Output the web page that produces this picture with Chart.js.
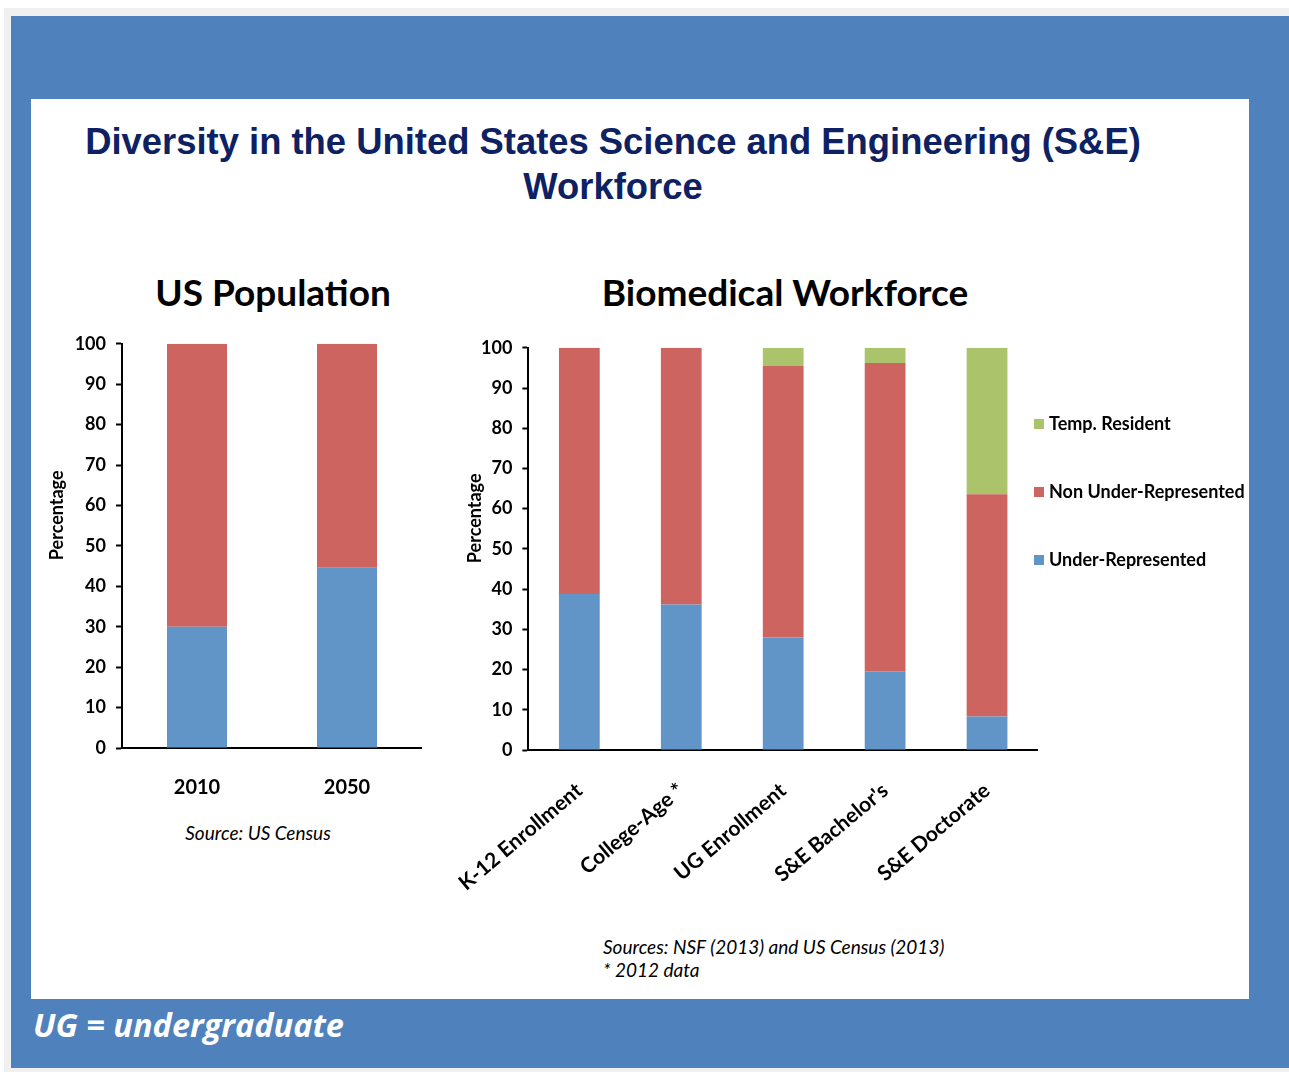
<!DOCTYPE html>
<html>
<head>
<meta charset="utf-8">
<script src="https://cdn.jsdelivr.net/npm/chart.js@4"></script>
<style>
  html, body { margin: 0; padding: 0; background: #fff; }
  #page { position: relative; width: 1289px; height: 1072px; overflow: hidden; }
  #gray { position: absolute; left: 4px; top: 8px; width: 1285px; height: 1064px; background: #f0f0f0; }
  #blue { position: absolute; left: 11px; top: 16px; width: 1278px; height: 1052px; background: #4f81bd; }
  #panel { position: absolute; left: 31px; top: 99px; width: 1218px; height: 900px; background: #fff; }
  .txt { position: absolute; white-space: nowrap; }
  #title { left: 31px; width: 1164px; top: 119px; text-align: center; font: bold 36.4px "Liberation Sans", Arial, sans-serif; color: #0d2163; line-height: 45px; }
  .sub { top: 269px; font: bold 37px Lato, "Open Sans", sans-serif; color: #000; }
  .src { font: italic 19px Lato, "Open Sans", sans-serif; color: #000; }
  #ug { left: 33px; top: 1002px; font: italic bold 32.5px "Open Sans", Lato, sans-serif; color: #fff; }
  canvas { position: absolute; }
  .leg { position: absolute; font: bold 18px Lato, "Open Sans", sans-serif; color: #000; white-space: nowrap; }
  .leg span { display: inline-block; width: 10px; height: 10px; margin-right: 5px; vertical-align: 1px; }
</style>
</head>
<body>
<div id="page">
  <div id="gray"></div>
  <div id="blue"></div>
  <div id="panel"></div>
  <div class="txt" id="title">Diversity in the United States Science and Engineering (S&amp;E)<br>Workforce</div>
  <div class="txt sub" style="left:273px;transform:translateX(-50%)">US Population</div>
  <div class="txt sub" style="left:785px;transform:translateX(-50%)">Biomedical Workforce</div>
  <div class="txt src" style="left:258px;top:821px;transform:translateX(-50%)">Source: US Census</div>
  <div class="txt src" style="left:603px;top:935px">Sources: NSF (2013) and US Census (2013)</div>
  <div class="txt src" style="left:603px;top:958px">* 2012 data</div>
  <div class="txt" id="ug">UG = undergraduate</div>
  <div style="position:absolute;left:40px;top:323px;width:382px;height:495px"><canvas id="popChart"></canvas></div>
  <div style="position:absolute;left:427px;top:327px;width:611px;height:583px"><canvas id="bioChart"></canvas></div>
  <div id="legend"></div>
</div>
<script>
// US Population (percent)
const popYears = ["2010", "2050"];
const popUnder = [30, 44.6];
const popNon = [70, 55.4];

// Biomedical workforce (percent)
const bioStages = ["K-12 Enrollment", "College-Age *", "UG Enrollment", "S&E Bachelor's", "S&E Doctorate"];
const bioUnder = [38.8, 36.2, 28.0, 19.6, 8.3];
const bioNon = [61.2, 63.8, 67.5, 76.6, 55.3];
const bioTemp = [0, 0, 4.5, 3.8, 36.4];

const yTicks = [0, 10, 20, 30, 40, 50, 60, 70, 80, 90, 100];

const BLUE = "#6195c8", RED = "#cd645f", GREEN = "#abc36b";
const FONT = "Lato, 'Open Sans', sans-serif";

function yAxis(width) {
  return {
    stacked: true,
    min: 0, max: 100,
    afterFit: (s) => { s.width = width; },
    afterBuildTicks: (s) => { s.ticks = yTicks.map(v => ({ value: v })); },
    ticks: { color: "#000", font: { family: FONT, size: 18, weight: "bold" }, padding: 10 },
    grid: { drawOnChartArea: false, drawTicks: true, tickLength: 6, tickWidth: 2, color: "#000" },
    border: { color: "#000", width: 2 },
    // leading spaces lift the title a little above the middle, as in the original
    title: { display: true, text: "              Percentage", color: "#000", font: { family: FONT, size: 18, weight: "bold" }, padding: { top: 6, bottom: 0 } }
  };
}

new Chart(document.getElementById("popChart"), {
  type: "bar",
  data: {
    labels: popYears,
    datasets: [
      { label: "Under-Represented", data: popUnder, backgroundColor: BLUE },
      { label: "Non Under-Represented", data: popNon, backgroundColor: RED }
    ]
  },
  options: {
    responsive: true,
    maintainAspectRatio: false,
    animation: false,
    layout: { padding: { top: 20, left: 0, right: 0, bottom: 0 } },
    datasets: { bar: { barPercentage: 0.4, categoryPercentage: 1 } },
    plugins: { legend: { display: false }, tooltip: { enabled: false } },
    scales: {
      x: {
        stacked: true,
        afterFit: (s) => { s.height = 70; },
        grid: { display: false, drawTicks: false },
        border: { color: "#000", width: 2 },
        ticks: { color: "#000", font: { family: FONT, size: 20, weight: "bold" }, padding: 28 }
      },
      y: yAxis(82)
    }
  }
});

new Chart(document.getElementById("bioChart"), {
  type: "bar",
  data: {
    labels: bioStages,
    datasets: [
      { label: "Under-Represented", data: bioUnder, backgroundColor: BLUE },
      { label: "Non Under-Represented", data: bioNon, backgroundColor: RED },
      { label: "Temp. Resident", data: bioTemp, backgroundColor: GREEN }
    ]
  },
  options: {
    responsive: true,
    maintainAspectRatio: false,
    animation: false,
    layout: { padding: { top: 20, left: 0, right: 0, bottom: 0 } },
    datasets: { bar: { barPercentage: 0.4, categoryPercentage: 1 } },
    plugins: { legend: { display: false }, tooltip: { enabled: false } },
    scales: {
      x: {
        stacked: true,
        afterFit: (s) => { s.height = 160; },
        grid: { display: false, drawTicks: false },
        border: { color: "#000", width: 2 },
        ticks: { color: "#000", font: { family: FONT, size: 21, weight: "bold" }, padding: 28, minRotation: 40, maxRotation: 40, autoSkip: false }
      },
      y: yAxis(70)
    }
  }
});

// legend, top to bottom as in the original
const legendItems = [
  { label: "Temp. Resident", color: GREEN, top: 412 },
  { label: "Non Under-Represented", color: RED, top: 480 },
  { label: "Under-Represented", color: BLUE, top: 548 }
];
const legendEl = document.getElementById("legend");
legendItems.forEach(item => {
  const d = document.createElement("div");
  d.className = "leg";
  d.style.left = "1034px";
  d.style.top = item.top + "px";
  d.innerHTML = '<span style="background:' + item.color + '"></span>' + item.label;
  legendEl.appendChild(d);
});
</script>
</body>
</html>
